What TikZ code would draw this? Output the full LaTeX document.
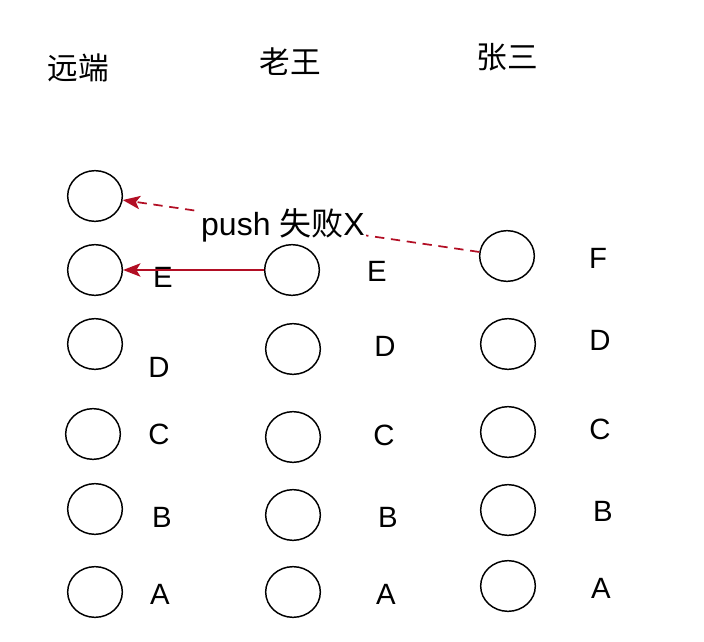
\documentclass[tikz,border=0pt]{standalone}
\usepackage{fontspec}
\setmainfont{Liberation Sans}
\newfontfamily\cjk{Noto Sans CJK SC}
\usetikzlibrary{shapes.geometric,arrows.meta}
\definecolor{pushred}{RGB}{178,14,36}
\begin{document}
\begin{tikzpicture} [x=0.75pt,y=-0.75pt]
\tikzstyle{commit}=[ellipse,draw,line width=1.1pt,minimum width=41pt,minimum height=38pt,inner sep=0pt]
\tikzstyle{letter}=[font=\fontsize{22}{25}\selectfont]
\tikzstyle{head}=[font=\cjk\fontsize{23}{26}\selectfont]
\tikzstyle{push}=[-{Stealth[length=13pt,width=10pt,inset=3pt]},pushred,line width=1.3pt]
\useasboundingbox (0,0) rectangle (704,642);
% heads
\node at(78,68) (remote) [head]{远端};
\node at(290,62) (wang) [head]{老王};
\node at(507,57) (zhang) [head]{张三};
% remote
\node at(95,196)(r1)[commit]{};
\node at(95,270)(r2)[commit]{};
\node at(95,344)(r3)[commit]{};
\node at(93,434)(r4)[commit]{};
\node at(95,509)(r5)[commit]{};
\node at(95,592)(r6)[commit]{};
\node at(163,277)(rE)[letter]{E};
\node at(159,367)(rD)[letter]{D};
\node at(159,434)(rC)[letter]{C};
\node at(162,517)(rB)[letter]{B};
\node at(160,594)(rA)[letter]{A};
% laowang
\node at(292,270)(w1)[commit]{}
	edge [push] (r2);
\node at(293,349)(w2)[commit]{};
\node at(293,437)(w3)[commit]{};
\node at(293,515)(w4)[commit]{};
\node at(293,592)(w5)[commit]{};
\node at(377,271)(wE)[letter]{E};
\node at(385,346)(wD)[letter]{D};
\node at(384,435)(wC)[letter]{C};
\node at(388,517)(wB)[letter]{B};
\node at(386,594)(wA)[letter]{A};
% zhangsan
\node at(507,256)(z1)[commit]{}
	edge [push,dash pattern=on 7pt off 5pt] (r1);
\node at(508,344)(z2)[commit]{};
\node at(508,432)(z3)[commit]{};
\node at(508,510)(z4)[commit]{};
\node at(508,586)(z5)[commit]{};
\node at(598,258)(zF)[letter]{F};
\node at(600,340)(zD)[letter]{D};
\node at(600,429)(zC)[letter]{C};
\node at(603,511)(zB)[letter]{B};
\node at(601,588)(zA)[letter]{A};
\node at(283,225)(fail)[fill=white,inner sep=1pt,font=\fontsize{24}{27}\selectfont]{push {\cjk 失败}X};
\end{tikzpicture}
\end{document}
